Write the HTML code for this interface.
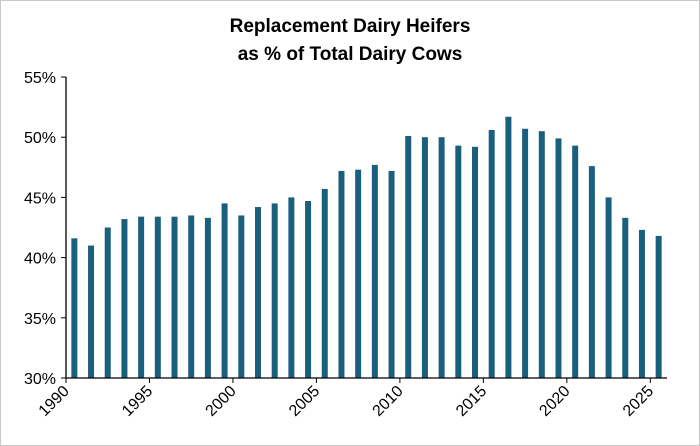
<!DOCTYPE html>
<html><head><meta charset="utf-8"><style>
body{margin:0;background:#fff;}
svg{display:block;font-family:"Liberation Sans",Arial,sans-serif;}
</style></head><body>
<svg id="chart" width="700" height="446">
<rect x="0.5" y="0.5" width="699" height="445" fill="#fff" stroke="#c8c8c8"/>
<text x="350" y="32" text-anchor="middle" font-size="19" font-weight="bold" fill="#000">Replacement Dairy Heifers</text>
<text x="350" y="60" text-anchor="middle" font-size="19" font-weight="bold" fill="#000">as % of Total Dairy Cows</text>
<g id="plot"></g>
</svg>
<script>
const years=[1990,1991,1992,1993,1994,1995,1996,1997,1998,1999,2000,2001,2002,2003,2004,2005,2006,2007,2008,2009,2010,2011,2012,2013,2014,2015,2016,2017,2018,2019,2020,2021,2022,2023,2024,2025];
const values=[41.6,41.0,42.5,43.2,43.4,43.4,43.4,43.5,43.3,44.5,43.5,44.2,44.5,45.0,44.7,45.7,47.2,47.3,47.7,47.2,50.1,50.0,50.0,49.3,49.2,50.6,51.7,50.7,50.5,49.9,49.3,47.6,45.0,43.3,42.3,41.8];
const yTicks=[30,35,40,45,50,55];
const xLabels=[1990,1995,2000,2005,2010,2015,2020,2025];
const NS="http://www.w3.org/2000/svg";
const g=document.getElementById('plot');
const L=66,R=667,T=77,B=378,ymin=30,ymax=55;
const band=(R-L)/years.length;
const y=v=>B-(v-ymin)/(ymax-ymin)*(B-T);
const xl=i=>L+i*band;
function mk(t,a){const e=document.createElementNS(NS,t);for(const k in a)e.setAttribute(k,a[k]);g.appendChild(e);return e;}
years.forEach((yr,i)=>{
  const r=mk('rect',{x:xl(i)+band/2-3,y:y(values[i]),width:6,height:B-y(values[i]),fill:'#1b5f7f'});
  
  
});
yTicks.forEach(v=>{
  const t=mk('line',{x1:L-5,x2:L,y1:y(v),y2:y(v),stroke:'#000','stroke-width':1});
  
  
  const tx=mk('text',{x:L-10,y:y(v)+6,'text-anchor':'end','font-size':16,fill:'#000'});
  tx.textContent=v+'%';
  
  
});
xLabels.forEach(yr=>{
  const i=years.indexOf(yr);const x=xl(i);
  const t=mk('line',{x1:x,x2:x,y1:B,y2:B+5,stroke:'#000','stroke-width':1});
  
  
  const tx=mk('text',{x:x+4,y:B+14,'text-anchor':'end','font-size':16,fill:'#000',transform:`rotate(-45 ${x+4} ${B+14})`});
  tx.textContent=yr;
  
  
});
const ya=mk('line',{x1:L,x2:L,y1:T,y2:B,stroke:'#000','stroke-width':1.3});


const xa=mk('line',{x1:L,x2:R,y1:B,y2:B,stroke:'#000','stroke-width':1.3});


</script>
</body></html>
